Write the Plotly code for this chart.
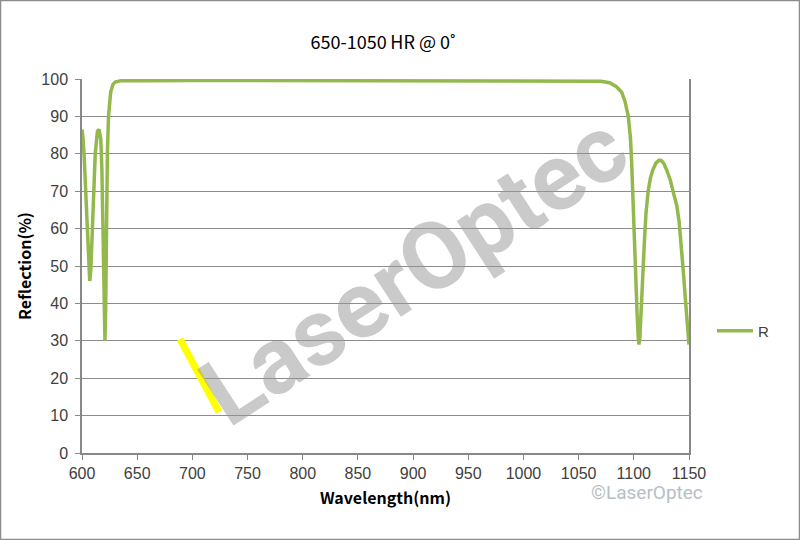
import plotly.graph_objects as go

wavelength = [600, 601, 602, 604, 606, 607, 608, 610, 612, 614, 615.5, 617, 618, 619, 620, 620.8,
              621.5, 622, 623, 624, 625, 626, 628, 630, 635, 645, 650, 655, 660, 700, 750, 800,
              815, 825, 840, 855, 865, 900, 950, 1000, 1050, 1060, 1070, 1078, 1084, 1089, 1092,
              1095, 1097, 1098, 1099, 1100, 1101, 1102, 1103, 1104, 1104.6, 1105.5, 1106.5, 1108,
              1109.5, 1111, 1113, 1115, 1117, 1120, 1123, 1125, 1127, 1130, 1133, 1136, 1139, 1141,
              1143, 1145, 1146.5, 1148, 1150]
reflection = [86.5, 84, 79, 65, 50, 46, 49, 66, 80, 86, 86.5, 84, 76, 60, 42, 30,
              40, 60, 80, 90, 94, 96.5, 98.5, 99.2, 99.5, 99.5, 99.3, 99.3, 99.5, 99.6, 99.6, 99.6,
              99.4, 99.4, 99.6, 99.4, 99.6, 99.6, 99.6, 99.6, 99.6, 99.6, 99.4, 99, 98, 96.5, 94,
              90, 84, 78, 69, 60, 52, 44, 37, 31, 29, 31, 38, 47,
              56, 64, 70, 73.5, 75.5, 77.5, 78.3, 78.2, 77.5, 75.5, 73, 69.5, 66, 62,
              56, 48, 42, 37, 29]

x_ticks = list(range(600, 1151, 50))
y_ticks = list(range(0, 101, 10))

L, R, T, B = 82, 111, 79, 87
W, H = 800, 540
pw, ph = W - L - R, H - T - B

def px(xp):
    return (xp - L) / pw

def py(yp):
    return (H - B - yp) / ph

fig = go.Figure()
fig.add_trace(go.Scatter(x=wavelength, y=reflection, mode="lines", name="R",
                         line=dict(color="#93b84c", width=3.5)))

font_title = "Noto Sans CJK SC, Noto Sans, sans-serif"
font_tick = "Liberation Sans, Arial, sans-serif"
fig.update_layout(
    width=W, height=H,
    margin=dict(l=L, r=R, t=T, b=B),
    paper_bgcolor="white", plot_bgcolor="white",
    title=dict(text="650-1050\u2009HR @ 0\u02da", x=px(383), xref="paper", xanchor="center",
               y=1 - 43 / H, yref="container", yanchor="middle",
               font=dict(family=font_title, size=18, color="#000")),
    font=dict(family=font_tick, size=16, color="#404040"),
    showlegend=True,
    legend=dict(x=px(712), y=py(331), xanchor="left", yanchor="middle",
                font=dict(size=15, family=font_tick, color="#404040"),
                bgcolor="rgba(0,0,0,0)", itemwidth=36),
    xaxis=dict(range=[600, 1150], tickvals=x_ticks, ticks="outside", ticklen=5,
               tickcolor="#888", showline=True, linecolor="#888", linewidth=1.5,
               showgrid=False, zeroline=False,
               tickfont=dict(family=font_tick, size=16, color="#404040"),
               title=dict(text="<b>Wavelength(nm)</b>", standoff=12,
                          font=dict(size=16, family=font_title, color="#000"))),
    yaxis=dict(range=[0, 100], tickvals=y_ticks, ticks="outside", ticklen=5,
               tickcolor="#888", showline=True, linecolor="#888", linewidth=1.5, mirror=True,
               showgrid=True, gridcolor="#8c8c8c", gridwidth=1.3, zeroline=False,
               ticklabelstandoff=4,
               tickfont=dict(family=font_tick, size=16, color="#404040"),
               title=dict(text="<b>Reflection(%)</b>", standoff=6,
                          font=dict(size=16, family=font_title, color="#000"))),
)

# outer border
fig.add_shape(type="rect", xref="paper", yref="paper",
              x0=px(0.5), x1=px(W - 0.5), y0=py(H - 0.5), y1=py(0.5),
              line=dict(color="#8c8c8c", width=1.5), layer="below")
# yellow stroke of watermark
fig.add_shape(type="line", xref="paper", yref="paper",
              x0=px(180), y0=py(339), x1=px(219), y1=py(412),
              line=dict(color="#ffff00", width=7), layer="above")
# watermark text
fig.add_annotation(text="<b>LaserOptec</b>", xref="paper", yref="paper",
                   x=px(414), y=py(270), showarrow=False, textangle=-33,
                   font=dict(family="Roboto, sans-serif",
                             size=94, color="rgba(150,150,150,0.5)"))
# copyright
fig.add_annotation(text="\u00a9LaserOptec", xref="paper", yref="paper",
                   x=px(705), y=py(506), showarrow=False,
                   font=dict(family="Roboto, sans-serif",
                             size=19, color="#b7bec5"))

fig.write_html("out.html", post_script="document.body.style.margin='0';",
               config={"displayModeBar": False})
